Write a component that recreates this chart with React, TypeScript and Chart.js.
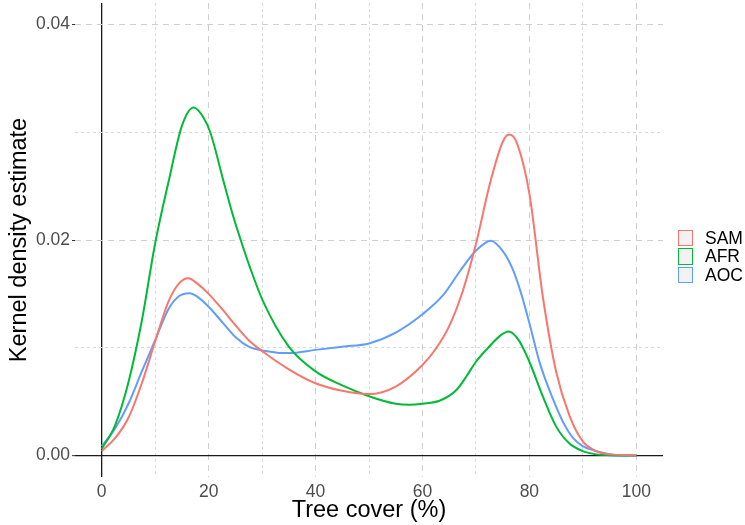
import React, { useEffect, useRef } from 'react';
import { Chart, registerables } from 'chart.js';

Chart.register(...registerables);

const seriesNames = ['SAM', 'AFR', 'AOC'];
const seriesColors = ['#F8766D', '#00BA38', '#619CFF'];

const samX = [0, 2.5, 5, 7.5, 10, 12.5, 14.5, 16.2, 18, 20, 22.5, 25, 27.5, 30, 35, 40, 45, 50, 55, 60, 62.5, 65, 67.5, 70, 72.5, 75, 76.2, 77.5, 80, 82.5, 85, 87.5, 90, 92.5, 95, 100];
const samY = [0.0004, 0.0016, 0.0035, 0.0067, 0.0106, 0.0143, 0.016, 0.01645, 0.0159, 0.015, 0.0136, 0.0121, 0.0107, 0.0097, 0.008, 0.0067, 0.006, 0.0057, 0.0064, 0.0084, 0.0099, 0.012, 0.0152, 0.0196, 0.025, 0.0291, 0.0298, 0.0292, 0.0243, 0.0148, 0.0078, 0.0037, 0.0013, 0.0004, 0.0001, 0];

const afrX = [0, 2.5, 5, 7.5, 10, 12.5, 15, 17.2, 19, 20.3, 22.9, 24.6, 26, 27.7, 30.1, 35, 40, 45, 50, 55, 57.5, 60, 63.3, 66.4, 68.3, 70, 72.3, 74.5, 76.1, 78, 80, 82.5, 85, 87.5, 90, 92.5, 95, 100];
const afrY = [0.0006, 0.0028, 0.0068, 0.0125, 0.0197, 0.0254, 0.0306, 0.0323, 0.0314, 0.03, 0.02525, 0.0222, 0.02, 0.0175, 0.0144, 0.0101, 0.0078, 0.0065, 0.0055, 0.0048, 0.0047, 0.0048, 0.0051, 0.0061, 0.0074, 0.0087, 0.01, 0.0111, 0.0115, 0.0107, 0.0087, 0.0055, 0.0027, 0.0011, 0.0004, 0.0001, 0.00003, 0];

const aocX = [0, 2.5, 5, 7.5, 10, 12.5, 14.5, 16.4, 18, 20, 22.5, 25, 27.5, 30, 35, 40, 45, 50, 55, 60, 63.9, 67, 70, 72.8, 75, 76.7, 78.3, 80, 82, 84.2, 86.4, 88.2, 90, 93.3, 96, 100];
const aocY = [0.00086, 0.0025, 0.0048, 0.0078, 0.0107, 0.0136, 0.0148, 0.01506, 0.0147, 0.0138, 0.0124, 0.011, 0.0101, 0.00975, 0.0095, 0.0098, 0.0101, 0.0104, 0.0114, 0.0131, 0.0149, 0.0171, 0.019, 0.01994, 0.019, 0.0175, 0.0153, 0.0123, 0.0085, 0.0055, 0.003, 0.0016, 0.00086, 0.0003, 0.00005, 0];

const xTickValues = [0, 10, 20, 30, 40, 50, 60, 70, 80, 90, 100];
const xTickLabels = ['0', '', '20', '', '40', '', '60', '', '80', '', '100'];
const yTickValues = [0, 0.01, 0.02, 0.03, 0.04];
const yTickLabels = ['0.00', '', '0.02', '', '0.04'];

const xTitle = 'Tree cover (%)';
const yTitle = 'Kernel density estimate';

const FONT = "'Liberation Sans', Arial, Helvetica, sans-serif";

const idxOf = (arr: number[], v: number) => arr.findIndex((a) => Math.abs(a - v) < 1e-9);

function gridColor(ctx: any, vals: number[], labels: string[]) {
  const v = ctx.tick ? ctx.tick.value : NaN;
  if (Math.abs(v) < 1e-12) return '#1a1a1a';
  const i = idxOf(vals, v);
  return i >= 0 && labels[i] !== '' ? '#cfcfcf' : '#dadada';
}
function gridDash(ctx: any, vals: number[], labels: string[]) {
  const v = ctx.tick ? ctx.tick.value : NaN;
  if (Math.abs(v) < 1e-12) return [];
  const i = idxOf(vals, v);
  return i >= 0 && labels[i] !== '' ? [6, 5] : [3, 3];
}
function gridWidth(ctx: any) {
  const v = ctx.tick ? ctx.tick.value : NaN;
  return Math.abs(v) < 1e-12 ? 1.3 : 1;
}

export default function App() {
  const canvasRef = useRef<HTMLCanvasElement | null>(null);

  useEffect(() => {
    if (!canvasRef.current) return;
    const xs = [samX, afrX, aocX];
    const ys = [samY, afrY, aocY];
    const chart = new Chart(canvasRef.current, {
      type: 'line',
      data: {
        datasets: seriesNames.map((name, k) => ({
          label: name,
          data: xs[k].map((x, i) => ({ x, y: ys[k][i] })),
          borderColor: seriesColors[k],
          backgroundColor: seriesColors[k],
          borderWidth: 2,
          pointRadius: 0,
          fill: false,
          cubicInterpolationMode: 'monotone' as const,
        })),
      },
      options: {
        responsive: false,
        animation: false,
        events: [],
        layout: { padding: { top: 3, right: 82, left: 0, bottom: 0 } },
        plugins: { legend: { display: false }, tooltip: { enabled: false } },
        scales: {
          x: {
            type: 'linear',
            min: -5,
            max: 105,
            afterBuildTicks: (s: any) => {
              s.ticks = xTickValues.map((v) => ({ value: v }));
            },
            afterFit: (s: any) => {
              s.height = 48;
              s.paddingLeft = 0;
              s.paddingRight = 0;
            },
            ticks: {
              autoSkip: false,
              maxRotation: 0,
              minRotation: 0,
              color: '#4d4d4d',
              font: { family: FONT, size: 17.5 },
              padding: 2,
              callback: (v: any) => {
                const i = idxOf(xTickValues, Number(v));
                return i >= 0 ? xTickLabels[i] : '';
              },
            },
            grid: {
              color: (ctx: any) => gridColor(ctx, xTickValues, xTickLabels),
              lineWidth: (ctx: any) => gridWidth(ctx),
              drawTicks: true,
              tickLength: 3,
              tickColor: 'rgba(0,0,0,0)',
              tickBorderDash: [],
            },
            border: { display: false, dash: (ctx: any) => gridDash(ctx, xTickValues, xTickLabels) },
            title: {
              display: true,
              text: xTitle,
              color: '#000000',
              font: { family: FONT, size: 23.5 },
              padding: { top: 0, bottom: 0 },
            },
          },
          y: {
            type: 'linear',
            min: -0.002,
            max: 0.042,
            afterBuildTicks: (s: any) => {
              s.ticks = yTickValues.map((v) => ({ value: v }));
            },
            afterFit: (s: any) => {
              s.width = 75;
              s.paddingTop = 0;
              s.paddingBottom = 0;
            },
            ticks: {
              autoSkip: false,
              color: '#4d4d4d',
              font: { family: FONT, size: 17.5 },
              padding: 2,
              callback: (v: any) => {
                const i = idxOf(yTickValues, Number(v));
                return i >= 0 ? yTickLabels[i] : '';
              },
            },
            grid: {
              color: (ctx: any) => gridColor(ctx, yTickValues, yTickLabels),
              lineWidth: (ctx: any) => gridWidth(ctx),
              drawTicks: true,
              tickLength: 3,
              tickColor: (ctx: any) => {
                const i = idxOf(yTickValues, ctx.tick ? ctx.tick.value : NaN);
                return i >= 0 && yTickLabels[i] !== '' ? '#333333' : 'rgba(0,0,0,0)';
              },
              tickWidth: 1,
              tickBorderDash: [],
            },
            border: { display: false, dash: (ctx: any) => gridDash(ctx, yTickValues, yTickLabels) },
            title: {
              display: true,
              text: yTitle,
              color: '#000000',
              font: { family: FONT, size: 23.5 },
              padding: { top: 5, bottom: 0 },
            },
          },
        },
      } as any,
    });
    return () => chart.destroy();
  }, []);

  return (
    <div style={{ position: 'absolute', left: 0, top: 0, width: 745, height: 525, background: '#ffffff' }}>
      <canvas ref={canvasRef} width={745} height={525} style={{ display: 'block' }} />
      <div style={{ position: 'absolute', left: 678, top: 229, fontFamily: FONT, fontSize: 17.5, color: '#000' }}>
        {seriesNames.map((name, k) => (
          <div key={name} style={{ display: 'flex', alignItems: 'center', height: 18.3 }}>
            <div
              style={{
                width: 15,
                height: 16.3,
                boxSizing: 'border-box',
                border: `1.4px solid ${seriesColors[k]}`,
                background: '#f2f2f2',
              }}
            />
            <span style={{ marginLeft: 12, lineHeight: '18px' }}>{name}</span>
          </div>
        ))}
      </div>
    </div>
  );
}
